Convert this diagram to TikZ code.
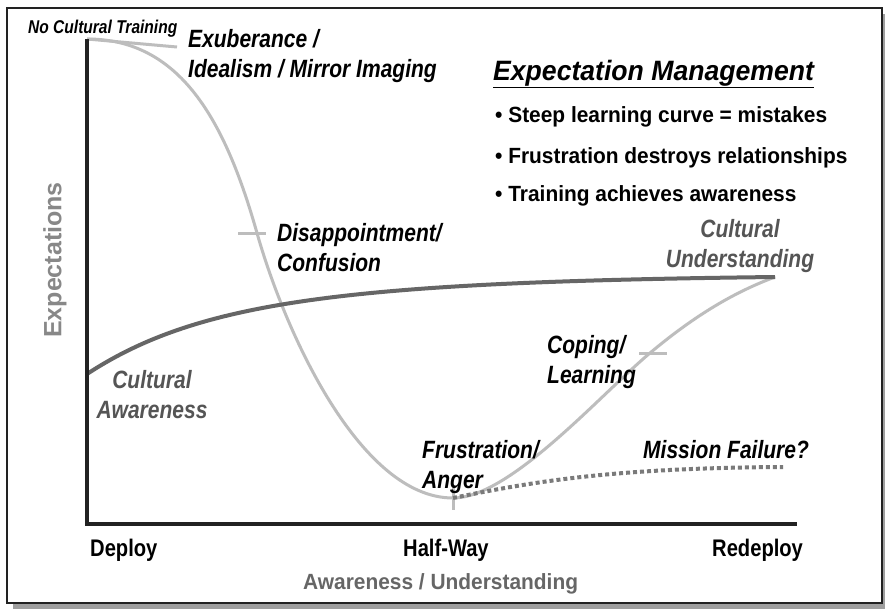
\documentclass[tikz,border=0pt]{standalone}
\usepackage{fontspec}
\setmainfont{Liberation Sans}
\newfontfamily\narrowsans[FakeStretch=0.84]{Liberation Sans}
\newfontfamily\plainsans[FakeStretch=0.95]{Liberation Sans}
\definecolor{framegray}{HTML}{222222}
\definecolor{curvelight}{HTML}{BDBDBD}
\definecolor{curvedark}{HTML}{666666}
\definecolor{dotgray}{HTML}{7A7A7A}
\definecolor{textdark}{HTML}{555555}
\definecolor{axisgray}{HTML}{888888}

\begin{document}
\begin{tikzpicture}[x=1pt,y=-1pt]
	\tikzstyle{every node}=[inner sep=0pt]
	\tikzstyle{phase}=[anchor=base west,align=left,font=\narrowsans\bfseries\itshape\fontsize{25}{30}\selectfont]
	\tikzstyle{level}=[phase,align=center,anchor=base,text=textdark]
	\tikzstyle{milestone}=[anchor=base west,font=\narrowsans\bfseries\fontsize{24}{28}\selectfont]
	\tikzstyle{bullet}=[anchor=base west,font=\plainsans\bfseries\fontsize{22}{26}\selectfont]
	\tikzstyle{lightcurve}=[curvelight,line width=3pt]
	\tikzstyle{darkcurve}=[curvedark,line width=4pt]

	\useasboundingbox (0,0) rectangle (885,608);
	\fill[gray!75] (13,14) rectangle (892,614);
	\draw[framegray,line width=2pt,fill=white] (7,8) rectangle (882,603);

	% key points of the curves
	\coordinate (top) at (87,39);
	\coordinate (origin) at (87,524);
	\coordinate (xend) at (797,524);
	\coordinate (disap) at (257,233);
	\coordinate (low) at (453,498);
	\coordinate (cope) at (650,353);
	\coordinate (peak) at (775,277);
	\coordinate (aware) at (87,374);
	\coordinate (fail) at (783,467);

	% expectation curve
	\draw[lightcurve] (top) .. controls (180,39) and (225,120) .. (disap)
		.. controls (285,332) and (360,498) .. (low)
		.. controls (510,498) and (600,395) .. (cope)
		.. controls (700,311) and (740,290) .. (peak);
	\draw[lightcurve] (top) -- ++(90,8);
	\draw[lightcurve] (disap) ++(-19,0) -- ++(28,0);
	\draw[lightcurve] (low) ++(0,-10) -- ++(0,22);
	\draw[lightcurve] (cope) ++(-11,0) -- ++(28,0);

	% awareness curve
	\draw[darkcurve] (aware) .. controls (200,300) and (350,282) .. (peak);
	\draw[dotgray,line width=4pt,dash pattern=on 4pt off 3pt] (low) .. controls (540,480) and (620,468) .. (fail);

	% axes
	\draw[framegray,line width=4pt] (top) -- (origin) -- (xend);

	\node[anchor=base west,font=\narrowsans\bfseries\itshape\fontsize{18.5}{22}\selectfont] (notraining) at (28,33) {No Cultural Training};
	\node[phase] (exuberance) at (188,77) {Exuberance /\\Idealism / Mirror Imaging};
	\node[phase] (disappointment) at (277,271) {Disappointment/\\Confusion};
	\node[phase] (frustration) at (422,488) {Frustration/\\Anger};
	\node[phase] (coping) at (547,383) {Coping/\\Learning};
	\node[phase] (failure) at (643,458) {Mission Failure?};
	\node[level] (understanding) at (740,267) {Cultural\\Understanding};
	\node[level] (awareness) at (152,418) {Cultural\\Awareness};

	\node[anchor=base west,font=\plainsans\bfseries\itshape\fontsize{28}{32}\selectfont] (title) at (493,80) {\underline{Expectation Management}};
	\node[bullet] (mistakes) at (495,122) {• Steep learning curve = mistakes};
	\node[bullet] (relations) at (495,163) {• Frustration destroys relationships};
	\node[bullet] (training) at (495,201) {• Training achieves awareness};

	\node[milestone] (deploy) at (90,556) {Deploy};
	\node[milestone] (halfway) at (403,556) {Half-Way};
	\node[milestone] (redeploy) at (712,556) {Redeploy};
	\node[anchor=base west,text=curvedark,font=\plainsans\bfseries\fontsize{22}{26}\selectfont] (xlabel) at (303,589) {Awareness / Understanding};
	\node[rotate=90,text=axisgray,font=\bfseries\fontsize{25}{28}\selectfont] (ylabel) at (55,260) {Expectations};
\end{tikzpicture}
\end{document}
